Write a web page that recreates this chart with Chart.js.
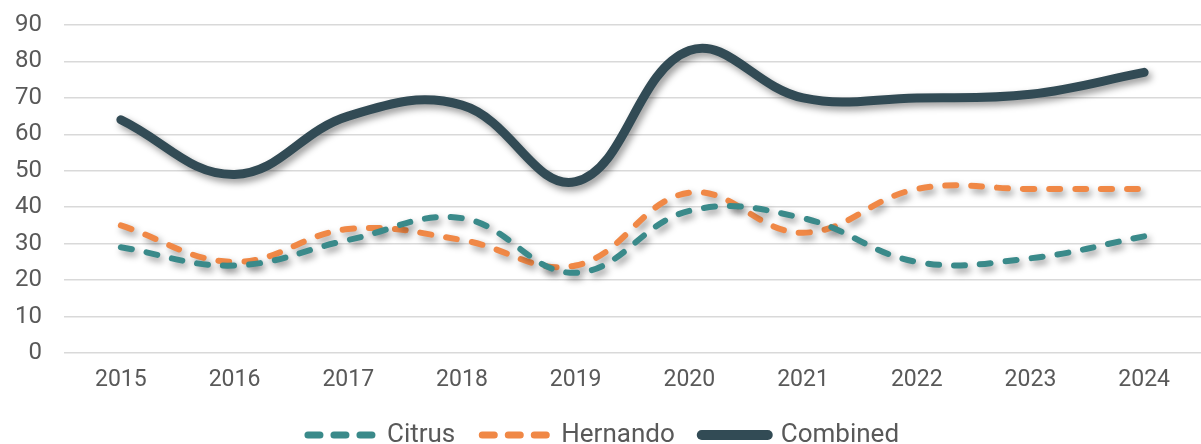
<!DOCTYPE html>
<html>
<head>
<meta charset="utf-8">
<script src="https://cdn.jsdelivr.net/npm/chart.js@4/dist/chart.umd.min.js"></script>
<style>
  html, body { margin: 0; padding: 0; background: #ffffff; }
  #wrap { width: 1201px; height: 444px; position: relative; }
</style>
</head>
<body>
<div id="wrap"><canvas id="myChart"></canvas></div>
<script>
// datos de la grafica
const years = ['2015', '2016', '2017', '2018', '2019', '2020', '2021', '2022', '2023', '2024'];
const citrus = [29, 24, 31, 37, 22, 39, 37, 25, 26, 32];
const hernando = [35, 25, 34, 31, 24, 44, 33, 45, 45, 45];
const combined = [64, 49, 65, 68, 47, 83, 70, 70, 71, 77];

// sombra debajo de cada linea (como en Excel)
const shadowPlugin = {
    id: 'lineShadow',
    beforeDatasetDraw(chart) {
        const ctx = chart.ctx;
        ctx.save();
        ctx.shadowColor = 'rgba(0, 0, 0, 0.4)';
        ctx.shadowBlur = 7;
        ctx.shadowOffsetX = 3;
        ctx.shadowOffsetY = 4;
    },
    afterDatasetDraw(chart) {
        chart.ctx.restore();
    }
};

const data = {
    labels: years,
    datasets: [
        {
            label: 'Citrus',
            data: citrus,
            borderColor: '#3A8A8A',
            backgroundColor: '#3A8A8A',
            borderWidth: 6,
            borderDash: [11, 15],
            borderCapStyle: 'round',
            tension: 0.4,
            pointRadius: 0,
            fill: false
        },
        {
            label: 'Hernando',
            data: hernando,
            borderColor: '#F08846',
            backgroundColor: '#F08846',
            borderWidth: 6,
            borderDash: [11, 15],
            borderCapStyle: 'round',
            tension: 0.4,
            pointRadius: 0,
            fill: false
        },
        {
            label: 'Combined',
            data: combined,
            borderColor: '#324B55',
            backgroundColor: '#324B55',
            borderWidth: 9,
            borderCapStyle: 'round',
            tension: 0.4,
            pointRadius: 0,
            fill: false
        }
    ]
};

// la leyenda usa el estilo de la linea (dash, grosor), no el del punto
const legendLabels = (chart) => {
    return chart.data.datasets.map((ds, i) => ({
        text: ds.label,
        datasetIndex: i,
        fillStyle: ds.borderColor,
        strokeStyle: ds.borderColor,
        lineWidth: ds.borderDash ? 7 : 10,
        lineDash: ds.borderDash ? [12, 14] : [],
        lineCap: 'round',
        pointStyle: 'line',
        fontColor: '#595959',
        hidden: false
    }));
};

const config = {
    type: 'line',
    data: data,
    plugins: [shadowPlugin],
    options: {
        responsive: true,
        maintainAspectRatio: false,
        animation: false,
        layout: { autoPadding: false, padding: { top: 0, right: 0, left: 6, bottom: -14 } },
        plugins: {
            legend: {
                position: 'bottom',
                labels: {
                    usePointStyle: true,
                    pointStyle: 'line',
                    pointStyleWidth: 66,
                    padding: 27,
                    color: '#595959',
                    font: { family: 'Roboto', size: 26 },
                    generateLabels: legendLabels
                }
            },
            tooltip: { enabled: false }
        },
        scales: {
            x: {
                offset: true,
                grid: { display: false, tickLength: 0 },
                border: { display: false },
                ticks: {
                    color: '#595959',
                    font: { family: 'Roboto', size: 23, lineHeight: 1.0 },
                    padding: 16
                },
                // alto fijo del eje x para que el area quede como en el original
                afterFit: (scale) => {
                    scale.height = 42;
                }
            },
            y: {
                min: 0,
                max: 90,
                ticks: {
                    stepSize: 10,
                    color: '#595959',
                    font: { family: 'Roboto', size: 24 },
                    padding: 22
                },
                grid: { color: '#D9D9D9', lineWidth: 1.5, drawTicks: false },
                border: { display: false },
                // el espacio arriba y a la izquierda lo dejamos como en el original
                afterFit: (scale) => {
                    scale.paddingTop = 25;
                    scale.paddingBottom = 12;
                    scale.width = 58;
                }
            }
        }
    }
};

const myChart = new Chart(document.getElementById('myChart'), config);
</script>
</body>
</html>
